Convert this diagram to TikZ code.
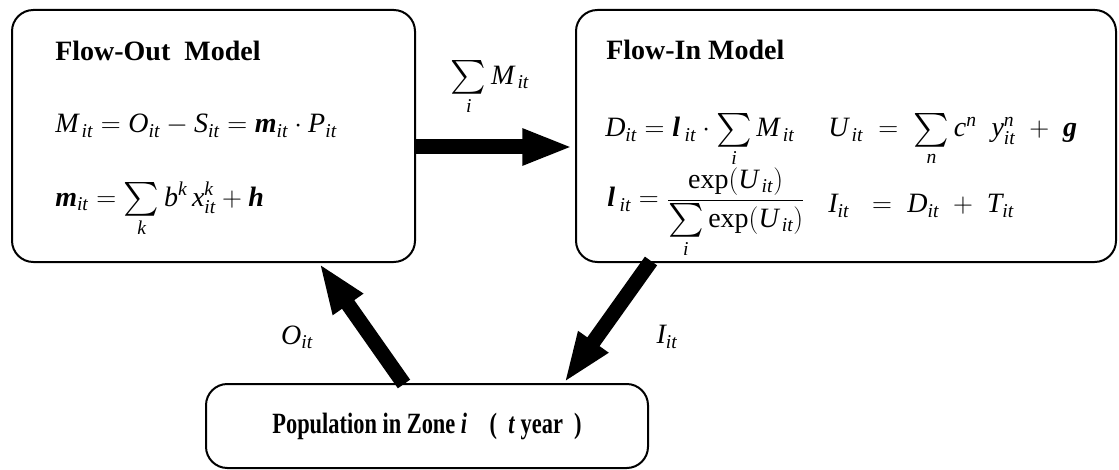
\documentclass[tikz,border=0pt]{standalone}
\usepackage{amsmath}
\usepackage{graphicx}
\usepackage{fontspec}
\setmainfont{Liberation Serif}
\usetikzlibrary{arrows.meta}
\newcommand\mv[2]{\mathit{#1}_{\mathit{#2}}}
\newcommand\mw[2]{{\mathit{#1}\mkern2mu}_{\mathit{#2}}}
\newcommand\bfit[1]{\text{\bfseries\itshape #1}}
\newcommand\bsum{\mathop{\vcenter{\hbox{\scalebox{1.22}{$\textstyle\sum$}}}}\limits}
\tikzset{
  box/.style={draw, line width=1.5pt, rounded corners=16pt, inner sep=0pt},
  bigarrow/.style={line width=11.25pt, -{Triangle[length=38pt,width=25pt]}},
  txt/.style={anchor=base west, inner sep=0pt},
  lbl/.style={inner sep=0pt},
}
\begin{document}
\begin{tikzpicture}[x=0.75pt,y=-0.75pt,font=\fontsize{21}{25}\selectfont]
\useasboundingbox (0,0) rectangle (1119,470);
% boxes
\node[box, minimum width=302.25pt, minimum height=189pt] (out) at (213.5,136) {};
\node[box, minimum width=405pt, minimum height=189pt] (in) at (846,136) {};
\node[box, minimum width=331.5pt, minimum height=63pt] (pop) at (427,426) {};
% flow-out model
\node[txt] (t1) at (55,61) {\bfseries Flow-Out\ \ Model};
\node[txt] (e1) at (55,133) {$\mw{M}{it} = \mv{O}{it} - \mv{S}{it} = \bfit{m}_{\mathit{it}}\cdot \mv{P}{it}$};
\node[txt] (e2) at (55,206) {$\bfit{m}_{\mathit{it}} = \bsum_{\mathit{k}} \mathit{b}^{\mathit{k}}\, \mathit{x}^{\mathit{k}}_{\mathit{it}} + \bfit{h}$};
% flow-in model
\node[txt] (t2) at (606,60) {\bfseries Flow-In Model};
\node[txt] (e3) at (605,137) {$\mv{D}{it} = \bfit{l}\,_{\mathit{it}} \cdot \bsum_{\mathit{i}} \mw{M}{it}$};
\node[txt] (e4) at (828,137) {$\mw{U}{it} \;=\; \bsum_{\mathit{n}} \mathit{c}^{\mathit{n}}\ \; \mathit{y}^{\mathit{n}}_{\mathit{it}} \;+\; \bfit{g}$};
\node[txt] (e5) at (607,207) {$\bfit{l}\,_{\mathit{it}} = \dfrac{\exp(\mw{U}{it})}{\bsum_{\mathit{i}}\exp(\mw{U}{it})}$};
\node[txt] (e6) at (828,213) {$\mv{I}{it} \;\;=\; \mv{D}{it} \;+\; \mv{T}{it}$};
% population
\node[lbl] (ptxt) at (427,426) {\scalebox{0.8}[1.05]{\bfseries Population in Zone \textit{i}\quad(\ \ \textit{t} year\ \ )}};
% connectors
\coordinate (hs) at (416,147);
\coordinate (he) at (573,147);
\coordinate (os) at (404,384);
\coordinate (oe) at (319,263);
\coordinate (is) at (651,261);
\coordinate (ie) at (564,383);
\draw[bigarrow] (hs) -- (he);
\draw[bigarrow] (os) -- (oe);
\draw[bigarrow] (is) -- (ie);
% labels
\node[lbl] (lm) at (490,88) {$\bsum_{\mathit{i}}\mw{M}{it}$};
\node[lbl] (lo) at (297,337) {$\mv{O}{it}$};
\node[lbl] (li) at (667,337) {$\mv{I}{it}$};
\end{tikzpicture}
\end{document}
